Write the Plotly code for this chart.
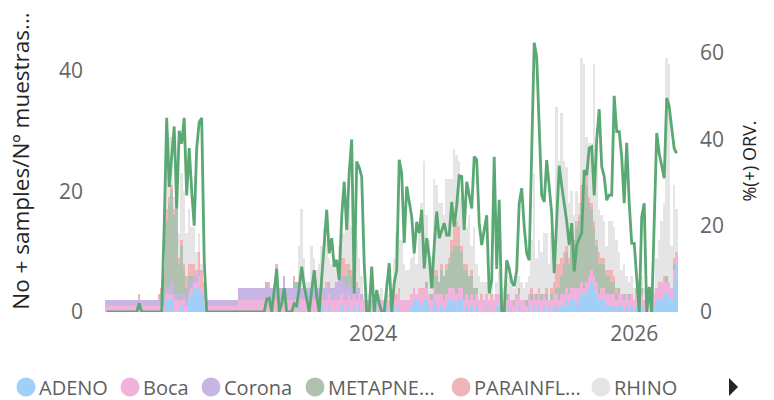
import pandas as pd
import plotly.graph_objects as go

# Weekly surveillance series (one value per week, starting 2021-12-16)
week_start = "2021-12-16"

series_names = ["ADENO", "Boca", "Corona", "METAPNE...", "PARAINFL...", "RHINO"]
series_colors = ["#A0CFF8", "#F1B3DC", "#C7B6E4", "#B0C1AF", "#F0B5B6", "#E5E5E5"]
line_color = "#5AA873"

adeno = [0,0,0,0,0,0,0,0,0,0,0,0,0,0,0,0,0,0,0,0,0,
         0,0,0,
         2,2,2,0,0,0,1,0,0,2,3,4,4,4,3,1,
         0,0,0,0,0,0,0,0,0,0,0,0,0,0,0,0,0,0,0,0,0,0,0,
         0,0,0,0,0,0,0,0,0,0,0,0,0,0,
         1,0,0,0,0,0,0,0,0,1,0,0,1,0,0,0,0,1,0,0,1,0,1,0,1,0,
         0,0,0,0,0,1,0,0,0,1,0,0,1,0,1,0,0,0,0,1,2,2,2,1,2,2,
         1,0,2,1,0,1,0,1,2,2,2,1,2,2,0,1,0,1,0,1,0,0,0,1,0,0,0,1,
         1,0,0,0,1,0,0,0,1,0,0,0,1,0,1,0,1,0,1,0,1,0,1,1,0,1,1,2,1,2,2,1,2,3,
         3,3,4,5,4,3,2,2,2,1,1,1,1,0,1,1,0,1,0,1,0,1,0,1,0,1,0,1,1,2,2,2,3,3,3,2,5,8]

boca = [1,1,1,1,1,1,1,1,1,1,1,1,1,1,1,1,1,1,1,1,1,
        1,1,1,
        1,1,1,2,2,2,1,2,1,1,1,1,1,2,1,1,
        1,1,1,1,1,1,1,1,1,1,1,1,1,
        2,2,2,2,2,2,2,2,2,2,
        2,2,2,2,2,2,2,2,2,2,2,2,2,2,2,2,2,2,2,2,2,2,2,2,2,2,2,2,2,2,2,2,2,2,2,2,2,2,2,2,
        2,2,2,2,2,2,2,2,2,2,2,2,2,2,2,2,2,2,2,2,2,
        1,
        2,2,2,2,2,2,2,2,
        3,
        2,2,2,2,2,2,2,2,2,2,2,2,2,2,2,2,2,2,2,2,2,2,2,2,2,
        1,
        2,2,2,
        1,
        2,2,2,2,
        1,
        2,2,2,2,2,2,2,2,
        1,
        2,2,2,2,2,2,2,2,2,2,
        3,
        2,2,
        1,
        2,2,2,2,2,
        1,
        2,2,2,2,2,2,2,2,2,2,2,2,2,2,2,2,2,2,
        1,
        2,2,2,2,2,
        3,
        2,2,2,2,
        2,
        2]

corona = [1,1,1,1,1,1,1,1,1,1,1,1,1,1,1,1,1,1,1,1,1,
          1,1,1,
          1,1,2,1,1,0,1,1,1,1,1,1,1,1,0,1,
          1,1,1,1,1,1,1,1,1,1,1,1,1,
          2,2,2,2,2,2,2,2,2,2,
          2,3,2,2,2,4,2,2,4,2,2,2,2,2,
          2,2,2,2,2,2,2,2,2,2,2,2,2,2,2,
          3,3,3,3,
          2,2,2,2,2,
          1,1,
          0,0,0,0,0,0,0,0,0,0,0,0,0,0,0,0,0,0,0,0,0,0,0,0,0,0,0,0,0,0,0,0,0,0,0,0,0,0,0,0,0,0,
          0,0,0,0,0,0,0,0,0,0,0,0,0,0,0,0,0,0,0,0,0,0,0,0,0,0,0,0,0,0,0,0,0,0,0,0,0,0,0,0,0,0,
          0,0,0,0,0,0,0,0,0,0,0,0,0,0,0,0,0,0,0,0,0,0,0,0,0,0,0,0,0,0,0,0,0,0,0,0,0,0,0,0,0,0]

metapne = [0,0,0,0,0,0,0,0,0,0,0,0,0,0,0,0,0,0,0,0,0,0,
           1,4,
           11,14,15,13,17,6,8,4,2,2,1,0,0,0,0,0,
           0,0,0,0,0,0,0,0,0,0,0,0,0,0,0,0,0,0,0,0,0,0,0,0,0,0,0,0,0,0,0,0,0,0,0,
           1,1,
           0,0,0,0,0,0,0,0,0,0,0,0,0,0,0,0,0,0,
           1,
           2,2,2,1,
           0,0,0,0,0,0,0,0,0,0,0,0,0,0,0,0,0,0,0,0,0,0,0,0,0,0,0,0,
           1,0,1,
           2,3,2,4,4,4,4,6,7,8,7,6,5,4,4,3,2,1,
           0,0,0,0,0,0,0,0,0,0,0,
           1,0,0,1,0,1,0,0,1,0,1,0,1,0,1,0,1,0,1,0,
           1,2,3,5,6,5,7,8,10,11,13,15,16,12,10,8,6,5,4,4,
           3,3,2,2,1,1,0,1,0,1,
           0,0,0,0,1,0,0,0,0,0,0,0,0,0,1,0,0,1,0]

parainfl = [0,0,0,0,0,0,0,0,0,0,0,0,0,1,0,0,0,0,0,0,0,
            1,1,1,
            2,1,1,1,1,1,1,1,2,2,2,2,1,3,3,2,
            0,0,0,0,0,0,0,0,0,0,0,0,0,0,0,0,0,0,0,0,0,0,0,0,0,
            1,0,0,2,0,0,0,0,0,0,1,0,0,0,0,0,0,0,1,0,0,1,0,1,0,0,0,0,
            2,3,3,2,1,1,1,1,
            0,0,0,0,0,0,0,0,0,0,0,0,0,0,0,
            1,1,0,0,0,0,0,0,0,0,1,0,0,0,0,1,1,0,1,0,
            1,1,2,4,4,3,1,1,1,0,1,0,0,0,1,0,0,0,1,
            0,0,0,0,0,0,0,0,0,1,0,0,0,0,0,1,0,0,1,0,0,1,0,1,
            2,4,4,3,2,1,1,1,0,1,1,3,4,2,1,1,1,1,2,1,1,1,1,2,1,1,
            0,0,0,0,0,0,0,1,0,0,0,0,1,0,0,0,1,0,1,0,0,0,1,0]

rhino = [0,0,0,0,0,0,0,0,0,0,0,0,0,0,0,0,0,0,0,0,0,0,0,
         1,
         14,10,8,2,2,4,11,12,7,9,6,6,3,3,1,0,
         0,0,0,0,0,0,0,0,0,0,0,0,0,0,0,0,0,0,0,0,0,0,0,0,0,0,0,0,0,0,0,0,0,0,0,0,0,
         6,13,5,1,1,7,4,3,4,5,10,7,4,4,4,3,4,4,4,7,10,7,8,7,5,3,
         1,0,1,1,0,0,1,2,0,2,1,2,6,10,8,10,6,5,5,6,6,5,10,14,21,11,
         9,6,15,14,13,10,10,14,13,10,12,11,11,8,10,6,10,4,10,4,4,2,3,2,2,2,1,2,
         4,2,3,2,3,4,2,3,2,3,2,3,3,8,20,6,8,7,10,9,6,9,3,26,17,24,15,13,9,8,4,5,2,21,
         18,6,9,10,26,15,7,7,6,4,8,8,8,8,6,4,5,3,2,3,2,0,2,2,2,0,1,1,1,5,7,10,12,36,36,7,12,7]

# Weekly share of positive samples (%)
pct_orv = [0,0,0,0,0,0,0,0,0,0,0,0,0,
           2,
           0,0,0,0,0,0,0,0,0,
           20,45,29,36,43,24,42,39,45,27,38,28,20,38,44,45,12,
           0,0,0,0,0,0,0,0,0,0,0,0,0,0,0,0,0,0,0,0,0,0,0,0,
           3,3.2,0,5,10,0,2,5.5,0,0,0,1.9,1.5,
           5.5,10.5,6,3,0,5,9.7,3.5,0,7.8,15,23.7,13.6,17.1,10.5,12.1,7.4,22.1,30.2,19,32.5,40,4.3,34.9,33.5,31.3,
           11.3,0,0,10.5,0,5.1,2,0,0,6,11.3,0,6.7,9.7,35.3,32.2,16,29.1,25,22.1,13.6,20.9,18.3,23.7,10.1,17.1,
           12.8,5.5,15.3,23.3,17.1,19,20.6,17.8,17.8,25.5,19.8,24.7,31.6,31.4,19,30.2,27.5,24,36,35.3,20.6,15.5,19,22.4,4.3,7.4,36,10,
           26,0,0,12,10,7,6,9.7,25.2,28.7,19.8,13.6,12,36,62.4,59,43,27,25.5,35.2,29,22.8,9,21,33.9,29.3,25.2,21,15.5,20.6,9.4,15.5,17,18.3,
           32.9,31.7,38,38.3,27,40,47,33.7,31.4,25.9,27.1,27.1,50.1,41.8,41.8,36,25.2,39.2,25.2,15.9,15.9,8.9,0,22,25.2,0,5.8,0,19.8,41.5,36.8,33.7,31,49.6,47.6,42.6,37.9,36.8]

year_ticks = ["2024-01-01", "2026-01-01"]
year_labels = ["2024", "2026"]

stacked = [adeno, boca, corona, metapne, parainfl, rhino]
weeks = pd.date_range(week_start, periods=len(pct_orv), freq="7D")
week_ms = 7 * 24 * 3600 * 1000

FONT = "Open Sans"
TICK_COLOR = "#666666"
TITLE_COLOR = "#252423"

# Plot-area geometry (pixels) for placing the legend row
W, H = 774, 400
L, R, T, B = 104, 94, 10, 88
PW, PH = W - L - R, H - T - B


def px(x):
    return (x - L) / PW


def py(y):
    return (H - B - y) / PH


fig = go.Figure()

for name, color, vals in zip(series_names, series_colors, stacked):
    fig.add_trace(go.Bar(
        x=weeks, y=vals, name=name, width=week_ms,
        marker=dict(color=color, line=dict(width=0)),
        showlegend=False,
    ))

fig.add_trace(go.Scatter(
    x=weeks, y=pct_orv, name="%(+) ORV.", yaxis="y2", mode="lines",
    line=dict(color=line_color, width=2.8), showlegend=False,
))

start = weeks[0] - pd.Timedelta(days=7.56)
end = weeks[0] + pd.Timedelta(days=1605.2)

fig.update_layout(
    width=W, height=H,
    margin=dict(l=L, r=R, t=T, b=B),
    paper_bgcolor="white", plot_bgcolor="white",
    barmode="stack", bargap=0,
    font=dict(family=FONT, color=TICK_COLOR),
    xaxis=dict(
        type="date", range=[start, end],
        tickvals=year_ticks, ticktext=year_labels,
        showgrid=False, zeroline=False, showline=False, ticks="",
        tickfont=dict(size=21, color=TICK_COLOR),
        ticklabelstandoff=7,
    ),
    yaxis=dict(
        range=[0, 50], tickvals=[0, 20, 40],
        showgrid=False, zeroline=False, showline=False, ticks="",
        tickfont=dict(size=21, color=TICK_COLOR),
        ticklabelstandoff=20,
        title=dict(text="No + samples/Nº muestras...",
                   font=dict(size=22.5, color=TITLE_COLOR), standoff=23),
    ),
    yaxis2=dict(
        overlaying="y", side="right",
        range=[0, 70], tickvals=[0, 20, 40, 60],
        showgrid=False, zeroline=False, showline=False, ticks="",
        tickfont=dict(size=21, color=TICK_COLOR),
        ticklabelstandoff=19,
        title=dict(text="%(+) ORV.",
                   font=dict(size=18, color=TITLE_COLOR), standoff=20),
    ),
)

# Legend row along the bottom: coloured dots with series names
legend_dots = [26, 130, 211, 315, 461, 601]
legend_y = 387
dot_r = 9.5
for name, color, cx in zip(series_names, series_colors, legend_dots):
    fig.add_shape(
        type="circle", xref="paper", yref="paper",
        x0=px(cx - dot_r), x1=px(cx + dot_r),
        y0=py(legend_y + dot_r), y1=py(legend_y - dot_r),
        fillcolor=color, line=dict(width=0),
    )
    fig.add_annotation(
        xref="paper", yref="paper", x=px(cx + 11), y=py(legend_y),
        xanchor="left", yanchor="middle", showarrow=False,
        text=name, font=dict(family=FONT, size=20, color="#5F5F5F"),
    )

# Scroll arrow at the end of the legend row
ax0, ax1 = 729, 738
fig.add_shape(
    type="path", xref="paper", yref="paper",
    path=f"M {px(ax0)} {py(378)} L {px(ax1)} {py(387)} L {px(ax0)} {py(396)} Z",
    fillcolor=TITLE_COLOR, line=dict(width=0),
)

fig.write_html("out.html")
